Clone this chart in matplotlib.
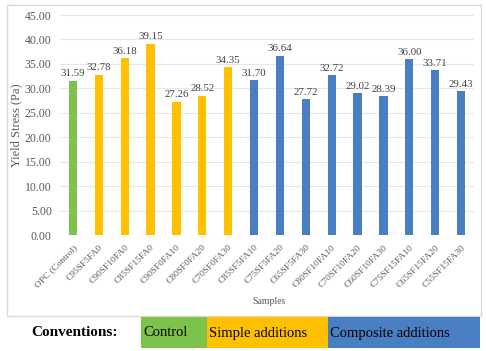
import numpy as np
import matplotlib
matplotlib.use("Agg")
import matplotlib.pyplot as plt
from matplotlib.patches import Rectangle

plt.rcParams['font.family'] = ['Liberation Serif', 'DejaVu Serif']

# Samples and measured yield stress (Pa)
samples = ['OPC (Control)', 'C95SF5FA0', 'C90SF10FA0', 'C85SF15FA0',
           'C90SF0FA10', 'C80SF0FA20', 'C70SF0FA30', 'C85SF5FA10',
           'C75SF5FA20', 'C65SF5FA30', 'C80SF10FA10', 'C70SF10FA20',
           'C60SF10FA30', 'C75SF15FA10', 'C65SF15FA20', 'C55SF15FA30']
yield_stress = [31.59, 32.78, 36.18, 39.15, 27.26, 28.52, 34.35, 31.70,
                36.64, 27.72, 32.72, 29.02, 28.39, 36.00, 33.71, 29.43]
groups = ['Control'] + ['Simple'] * 6 + ['Composite'] * 9

green = '#7DC24B'
yellow = '#FFC000'
blue = '#4A7EC2'
group_colors = {'Control': green, 'Simple': yellow, 'Composite': blue}
colors = [group_colors[g] for g in groups]

fig = plt.figure(figsize=(4.86, 3.51), dpi=100)

# chart frame like the Excel chart area
fig.patches.append(Rectangle((7/486, 1-316/351), 474/486, 311/351,
                             transform=fig.transFigure, fill=False,
                             edgecolor='#D9D9D9', linewidth=1.0))

ax = fig.add_axes([60/486, 1-235/351, 414/486, 220/351])
x = np.arange(len(samples))
bars = ax.bar(x, yield_stress, width=0.32, color=colors, zorder=3)

for xi, v in zip(x, yield_stress):
    ax.text(xi, v + 0.5, f'{v:.2f}', ha='center', va='bottom',
            fontsize=7.8, color='#404040')

ax.set_ylim(0, 45)
ax.set_xlim(-0.5, len(samples) - 0.5)
ax.set_yticks(np.arange(0, 46, 5))
ax.set_yticklabels([f'{t:.2f}' for t in np.arange(0, 46, 5)])
ax.set_xticks(x)
ax.set_xticklabels(samples, rotation=45, ha='right', rotation_mode='anchor')
ax.tick_params(axis='both', length=0, colors='#595959')
ax.tick_params(axis='y', labelsize=8.5, pad=6)
ax.tick_params(axis='x', labelsize=6.8, pad=6)
ax.grid(axis='y', color='#E6E6E6', linewidth=0.8, zorder=0)
for s in ax.spines.values():
    s.set_visible(False)
ax.set_ylabel('Yield Stress (Pa)', fontsize=9, color='#595959')
ax.yaxis.set_label_coords(-0.092, 0.5)
fig.text(269/486, 1-302/351, 'Samples', fontsize=7, color='#595959',
         ha='center', va='center')

# conventions legend strip
fig.text(75/486, 1-333/351, 'Conventions:', fontsize=11, fontweight='bold',
         ha='center', va='center')
legend_items = [('Control', green, 141, 207),
                ('Simple additions', yellow, 207, 328),
                ('Composite additions', blue, 328, 480)]
for label, col, x0, x1 in legend_items:
    fig.patches.append(Rectangle((x0/486, 1-348/351), (x1-x0)/486, 31/351,
                                 transform=fig.transFigure, facecolor=col,
                                 edgecolor='none'))
    fig.text((x0 + 2)/486, 1-333/351, label, fontsize=10.5, ha='left',
             va='center')

fig.savefig('out.png', dpi=100)
